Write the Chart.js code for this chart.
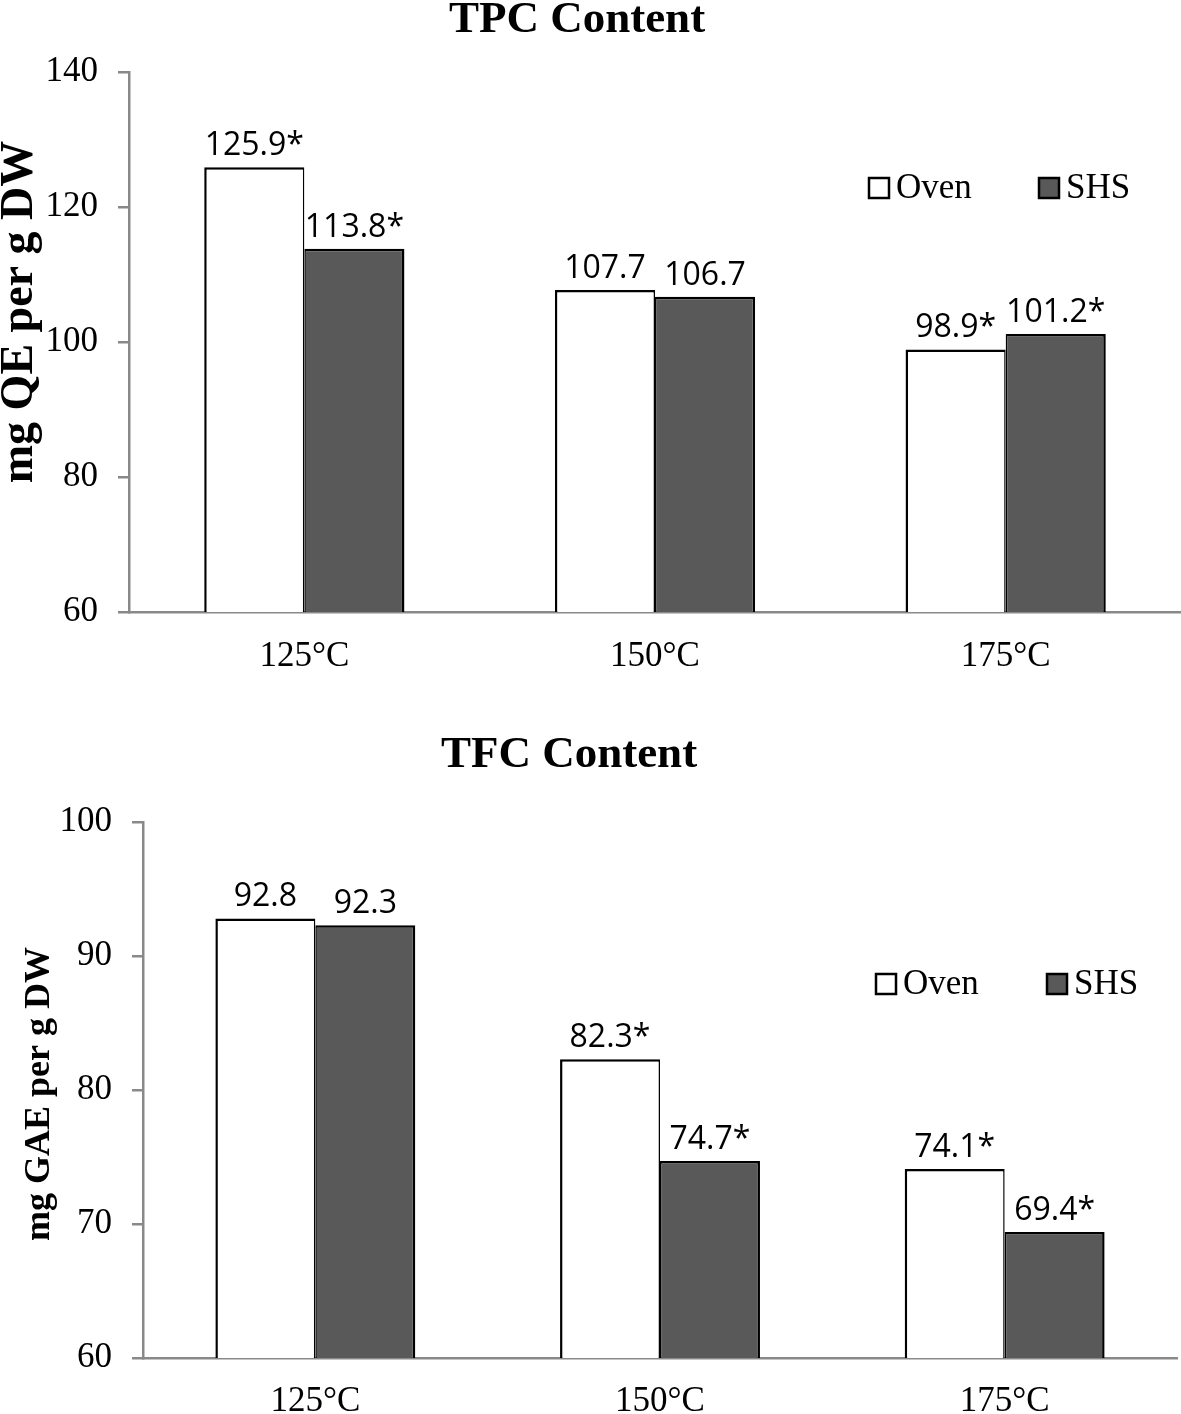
<!DOCTYPE html>
<html>
<head>
<meta charset="utf-8">
<script src="https://cdn.jsdelivr.net/npm/chart.js@4.4.1/dist/chart.umd.min.js"></script>
<style>
  html, body { margin: 0; padding: 0; background: #fff; }
  .wrap { position: absolute; left: 0; width: 1181px; }
  #top { top: 0; height: 700px; }
  #bottom { top: 700px; height: 714px; }
</style>
</head>
<body>
<div class="wrap" id="top"><canvas id="tpcChart"></canvas></div>
<div class="wrap" id="bottom"><canvas id="tfcChart"></canvas></div>
<script>
// Data
const temps = ['125°C', '150°C', '175°C'];
const seriesNames = ['Oven', 'SHS'];

const tpcOven = [125.9, 107.7, 98.9];
const tpcShs = [113.8, 106.7, 101.2];
const tpcOvenSig = [true, false, true];
const tpcShsSig = [true, false, true];
const tpcTicks = [60, 80, 100, 120, 140];

const tfcOven = [92.8, 82.3, 74.1];
const tfcShs = [92.3, 74.7, 69.4];
const tfcOvenSig = [false, true, true];
const tfcShsSig = [false, true, true];
const tfcTicks = [60, 70, 80, 90, 100];

const AXIS_GREY = '#898989';
const SERIF = '"Liberation Serif", "Times New Roman", serif';

// bar value labels with optional asterisk
const valueLabels = {
    id: 'valueLabels',
    afterDatasetsDraw(chart) {
        const ctx = chart.ctx;
        ctx.save();
        ctx.font = '32px "Open Sans", sans-serif';
        ctx.fillStyle = '#000';
        ctx.textAlign = 'center';
        ctx.textBaseline = 'alphabetic';
        chart.data.datasets.forEach((ds, i) => {
            const meta = chart.getDatasetMeta(i);
            meta.data.forEach((bar, j) => {
                const txt = ds.data[j].toFixed(1) + (ds.sig[j] ? '*' : '');
                ctx.fillText(txt, bar.x, bar.y - 12);
            });
        });
        ctx.restore();
    }
};

// title, y-axis title and legend drawn where the figure has them
const decorations = {
    id: 'decorations',
    afterDraw(chart, args, opts) {
        const ctx = chart.ctx;
        ctx.save();
        ctx.fillStyle = '#000';
        ctx.textAlign = 'center';
        ctx.textBaseline = 'alphabetic';
        ctx.font = 'bold 45px ' + SERIF;
        ctx.fillText(opts.title, opts.titleX, opts.titleY);

        ctx.save();
        ctx.translate(opts.yTitleX, opts.yTitleY);
        ctx.rotate(-Math.PI / 2);
        ctx.textBaseline = 'middle';
        ctx.font = 'bold ' + opts.yTitleSize + 'px ' + SERIF;
        ctx.fillText(opts.yTitle, 0, 0);
        ctx.restore();

        ctx.textAlign = 'left';
        ctx.font = '35px ' + SERIF;
        chart.data.datasets.forEach((ds, i) => {
            const lx = opts.legendX[i];
            const ly = opts.legendY;
            ctx.fillStyle = ds.backgroundColor;
            ctx.fillRect(lx, ly - 20, 20, 20);
            ctx.lineWidth = 2.5;
            ctx.strokeStyle = '#000';
            ctx.strokeRect(lx, ly - 20, 20, 20);
            ctx.fillStyle = '#000';
            ctx.fillText(ds.label, lx + 27, ly);
        });
        ctx.restore();
    }
};

function makeChart(canvas, cfg) {
    return new Chart(canvas, {
        type: 'bar',
        data: {
            labels: temps,
            datasets: [
                { label: seriesNames[0], data: cfg.oven, sig: cfg.ovenSig, backgroundColor: '#ffffff', borderColor: '#000', borderWidth: { top: 2.5, left: 2.5, right: 1.5, bottom: 0 } },
                { label: seriesNames[1], data: cfg.shs, sig: cfg.shsSig, backgroundColor: '#595959', borderColor: '#000', borderWidth: { top: 2.5, left: 1.5, right: 2.5, bottom: 0 } }
            ]
        },
        options: {
            responsive: true,
            maintainAspectRatio: false,
            animation: false,
            devicePixelRatio: 1,
            layout: { padding: { top: cfg.padTop, right: cfg.padRight, left: 0, bottom: 0 } },
            datasets: { bar: { categoryPercentage: cfg.catPct, barPercentage: 1 } },
            plugins: {
                legend: { display: false },
                tooltip: { enabled: false },
                decorations: cfg.deco
            },
            scales: {
                x: {
                    grid: { display: false, drawTicks: false },
                    border: { color: AXIS_GREY, width: 2.5 },
                    ticks: { color: '#000', font: { family: SERIF, size: 35 }, padding: cfg.xPad },
                    afterFit: s => { s.height = cfg.xHeight; }
                },
                y: {
                    min: cfg.ticks[0],
                    max: cfg.ticks[cfg.ticks.length - 1],
                    afterBuildTicks: s => { s.ticks = cfg.ticks.map(v => ({ value: v })); },
                    grid: { drawOnChartArea: false, color: AXIS_GREY, lineWidth: 2.5, tickLength: 11 },
                    border: { color: AXIS_GREY, width: 2.5 },
                    ticks: { color: '#000', font: { family: SERIF, size: 35 }, padding: 20 },
                    afterFit: s => { s.width = cfg.yWidth; }
                }
            }
        },
        plugins: [valueLabels, decorations]
    });
}

makeChart(document.getElementById('tpcChart'), {
    oven: tpcOven, shs: tpcShs, ovenSig: tpcOvenSig, shsSig: tpcShsSig, ticks: tpcTicks,
    padTop: 72, padRight: 0, xHeight: 88, yWidth: 129, xPad: 24, catPct: 0.571,
    deco: {
        title: 'TPC Content', titleX: 577, titleY: 32,
        yTitle: 'mg QE per g DW', yTitleX: 20, yTitleY: 312, yTitleSize: 46,
        legendX: [869, 1039], legendY: 198
    }
});

makeChart(document.getElementById('tfcChart'), {
    oven: tfcOven, shs: tfcShs, ovenSig: tfcOvenSig, shsSig: tfcShsSig, ticks: tfcTicks,
    padTop: 122, padRight: 4, xHeight: 56, yWidth: 143, xPad: 23, catPct: 0.58,
    deco: {
        title: 'TFC Content', titleX: 569, titleY: 67,
        yTitle: 'mg GAE per g DW', yTitleX: 40, yTitleY: 394, yTitleSize: 36,
        legendX: [876, 1047], legendY: 294
    }
});
</script>
</body>
</html>
